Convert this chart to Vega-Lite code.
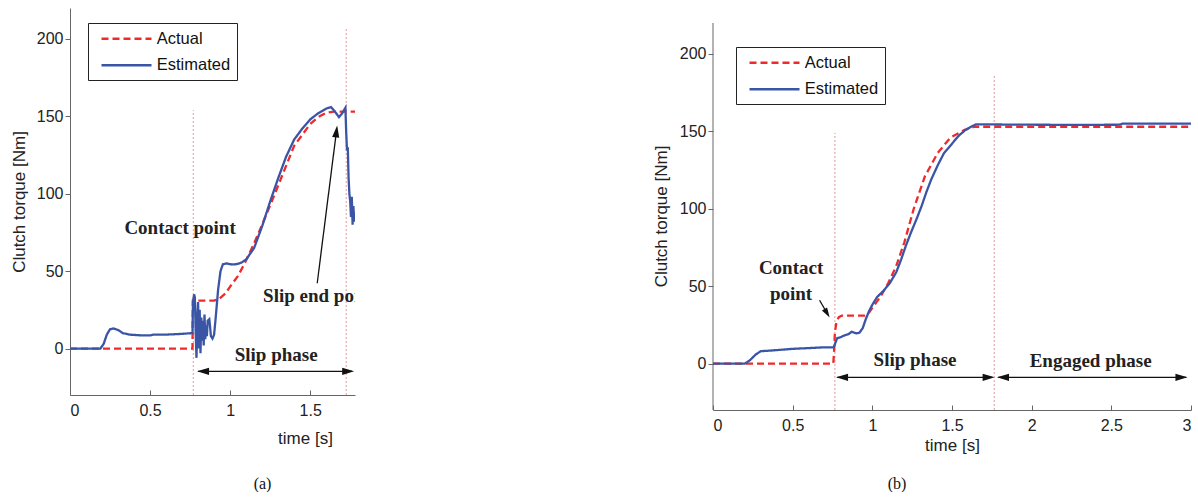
{
  "$schema": "https://vega.github.io/schema/vega-lite/v6.json",
  "background": "white",
  "padding": {"left": 10, "top": 8, "right": 0, "bottom": 0},
  "config": {
    "view": {"stroke": null},
    "font": "Liberation Sans",
    "axis": {
      "labelFont": "Liberation Sans", "labelFontSize": 16, "labelColor": "#222",
      "titleFont": "Liberation Sans", "titleFontSize": 17, "titleFontWeight": "normal", "titleColor": "#222",
      "domainColor": "#666", "tickColor": "#666", "grid": false
    },
    "legend": {
      "symbolType": "M-3.125,0H3.125", "symbolSize": 256, "symbolStrokeWidth": 2.5,
      "symbolOffset": 22.75, "labelOffset": 20.75, "labelFontSize": 16.5, "labelFont": "Liberation Sans",
      "labelColor": "#111", "padding": 6.25, "rowPadding": 8.5, "strokeColor": "#222", "fillColor": "white",
      "cornerRadius": 0
    },
    "text": {"lineBreak": "\n"}
  },
  "datasets": {
    "curvesA": [
      {"t": 0, "v": 0, "series": "Actual"}, {"t": 0.765, "v": 0, "series": "Actual"}, {"t": 0.767, "v": 31, "series": "Actual"},
      {"t": 0.9, "v": 31, "series": "Actual"}, {"t": 0.93, "v": 32, "series": "Actual"}, {"t": 0.97, "v": 35.5, "series": "Actual"},
      {"t": 1.0, "v": 40, "series": "Actual"}, {"t": 1.05, "v": 47, "series": "Actual"}, {"t": 1.1, "v": 57, "series": "Actual"},
      {"t": 1.15, "v": 68, "series": "Actual"}, {"t": 1.2, "v": 80, "series": "Actual"}, {"t": 1.26, "v": 95, "series": "Actual"},
      {"t": 1.33, "v": 113, "series": "Actual"}, {"t": 1.4, "v": 131, "series": "Actual"}, {"t": 1.45, "v": 138, "series": "Actual"},
      {"t": 1.5, "v": 145, "series": "Actual"}, {"t": 1.55, "v": 149.5, "series": "Actual"}, {"t": 1.6, "v": 152.3, "series": "Actual"},
      {"t": 1.65, "v": 153, "series": "Actual"}, {"t": 1.78, "v": 153, "series": "Actual"},
      {"t": 0, "v": 0, "series": "Estimated"}, {"t": 0.19, "v": 0, "series": "Estimated"}, {"t": 0.21, "v": 3, "series": "Estimated"},
      {"t": 0.23, "v": 9, "series": "Estimated"}, {"t": 0.25, "v": 12.5, "series": "Estimated"}, {"t": 0.27, "v": 13, "series": "Estimated"},
      {"t": 0.3, "v": 12, "series": "Estimated"}, {"t": 0.33, "v": 10, "series": "Estimated"}, {"t": 0.37, "v": 9, "series": "Estimated"},
      {"t": 0.45, "v": 8.5, "series": "Estimated"}, {"t": 0.5, "v": 8.5, "series": "Estimated"}, {"t": 0.52, "v": 9, "series": "Estimated"},
      {"t": 0.6, "v": 9, "series": "Estimated"}, {"t": 0.7, "v": 9.5, "series": "Estimated"}, {"t": 0.765, "v": 10, "series": "Estimated"},
      {"t": 0.768, "v": 30, "series": "Estimated"}, {"t": 0.775, "v": 35, "series": "Estimated"}, {"t": 0.78, "v": 33, "series": "Estimated"},
      {"t": 0.785, "v": 10, "series": "Estimated"}, {"t": 0.79, "v": -6, "series": "Estimated"}, {"t": 0.795, "v": 20, "series": "Estimated"},
      {"t": 0.8, "v": 30, "series": "Estimated"}, {"t": 0.805, "v": 0, "series": "Estimated"}, {"t": 0.81, "v": 25, "series": "Estimated"},
      {"t": 0.815, "v": -3, "series": "Estimated"}, {"t": 0.82, "v": 20, "series": "Estimated"}, {"t": 0.825, "v": 5, "series": "Estimated"},
      {"t": 0.83, "v": 18, "series": "Estimated"}, {"t": 0.835, "v": 2, "series": "Estimated"}, {"t": 0.84, "v": 22, "series": "Estimated"},
      {"t": 0.845, "v": 6, "series": "Estimated"}, {"t": 0.85, "v": 15, "series": "Estimated"}, {"t": 0.855, "v": 8, "series": "Estimated"},
      {"t": 0.86, "v": 18, "series": "Estimated"}, {"t": 0.87, "v": 19, "series": "Estimated"}, {"t": 0.875, "v": 14, "series": "Estimated"},
      {"t": 0.88, "v": 8, "series": "Estimated"}, {"t": 0.89, "v": 6.5, "series": "Estimated"}, {"t": 0.9, "v": 9, "series": "Estimated"},
      {"t": 0.91, "v": 20, "series": "Estimated"}, {"t": 0.925, "v": 38, "series": "Estimated"}, {"t": 0.94, "v": 50, "series": "Estimated"},
      {"t": 0.955, "v": 54.5, "series": "Estimated"}, {"t": 0.98, "v": 55, "series": "Estimated"}, {"t": 1.01, "v": 54.3, "series": "Estimated"},
      {"t": 1.04, "v": 54.5, "series": "Estimated"}, {"t": 1.07, "v": 55.5, "series": "Estimated"}, {"t": 1.1, "v": 57.5, "series": "Estimated"},
      {"t": 1.15, "v": 65, "series": "Estimated"}, {"t": 1.2, "v": 79, "series": "Estimated"}, {"t": 1.25, "v": 95, "series": "Estimated"},
      {"t": 1.3, "v": 110, "series": "Estimated"}, {"t": 1.35, "v": 124, "series": "Estimated"}, {"t": 1.4, "v": 135, "series": "Estimated"},
      {"t": 1.45, "v": 142, "series": "Estimated"}, {"t": 1.5, "v": 148, "series": "Estimated"}, {"t": 1.55, "v": 152, "series": "Estimated"},
      {"t": 1.6, "v": 155, "series": "Estimated"}, {"t": 1.63, "v": 156, "series": "Estimated"}, {"t": 1.655, "v": 153, "series": "Estimated"},
      {"t": 1.68, "v": 149.5, "series": "Estimated"}, {"t": 1.7, "v": 152, "series": "Estimated"}, {"t": 1.72, "v": 155.5, "series": "Estimated"},
      {"t": 1.725, "v": 140, "series": "Estimated"}, {"t": 1.73, "v": 128, "series": "Estimated"}, {"t": 1.735, "v": 130, "series": "Estimated"},
      {"t": 1.74, "v": 110, "series": "Estimated"}, {"t": 1.745, "v": 100, "series": "Estimated"}, {"t": 1.75, "v": 95, "series": "Estimated"},
      {"t": 1.755, "v": 85, "series": "Estimated"}, {"t": 1.76, "v": 98, "series": "Estimated"}, {"t": 1.765, "v": 80, "series": "Estimated"},
      {"t": 1.77, "v": 92, "series": "Estimated"}, {"t": 1.775, "v": 82, "series": "Estimated"}, {"t": 1.78, "v": 88, "series": "Estimated"}
    ],
    "curvesB": [
      {"t": 0, "v": 0, "series": "Actual"}, {"t": 0.755, "v": 0, "series": "Actual"}, {"t": 0.76, "v": 8, "series": "Actual"},
      {"t": 0.765, "v": 20, "series": "Actual"}, {"t": 0.775, "v": 27, "series": "Actual"}, {"t": 0.79, "v": 30, "series": "Actual"},
      {"t": 0.81, "v": 31, "series": "Actual"}, {"t": 0.95, "v": 31, "series": "Actual"}, {"t": 0.98, "v": 33, "series": "Actual"},
      {"t": 1.0, "v": 36, "series": "Actual"}, {"t": 1.05, "v": 43, "series": "Actual"}, {"t": 1.1, "v": 52, "series": "Actual"},
      {"t": 1.15, "v": 63, "series": "Actual"}, {"t": 1.2, "v": 78, "series": "Actual"}, {"t": 1.26, "v": 100, "series": "Actual"},
      {"t": 1.33, "v": 121, "series": "Actual"}, {"t": 1.41, "v": 136, "series": "Actual"}, {"t": 1.49, "v": 146, "series": "Actual"},
      {"t": 1.58, "v": 151, "series": "Actual"}, {"t": 1.64, "v": 153, "series": "Actual"}, {"t": 3.0, "v": 153, "series": "Actual"},
      {"t": 0, "v": 0, "series": "Estimated"}, {"t": 0.2, "v": 0, "series": "Estimated"}, {"t": 0.23, "v": 2, "series": "Estimated"},
      {"t": 0.27, "v": 6, "series": "Estimated"}, {"t": 0.3, "v": 8, "series": "Estimated"}, {"t": 0.35, "v": 8.3, "series": "Estimated"},
      {"t": 0.4, "v": 8.7, "series": "Estimated"}, {"t": 0.5, "v": 9.5, "series": "Estimated"}, {"t": 0.6, "v": 10, "series": "Estimated"},
      {"t": 0.7, "v": 10.5, "series": "Estimated"}, {"t": 0.755, "v": 10.5, "series": "Estimated"}, {"t": 0.76, "v": 11, "series": "Estimated"},
      {"t": 0.77, "v": 14, "series": "Estimated"}, {"t": 0.78, "v": 16.5, "series": "Estimated"}, {"t": 0.8, "v": 17, "series": "Estimated"},
      {"t": 0.82, "v": 18, "series": "Estimated"}, {"t": 0.85, "v": 19, "series": "Estimated"}, {"t": 0.87, "v": 20.5, "series": "Estimated"},
      {"t": 0.9, "v": 19.5, "series": "Estimated"}, {"t": 0.92, "v": 20, "series": "Estimated"}, {"t": 0.94, "v": 23, "series": "Estimated"},
      {"t": 0.96, "v": 29, "series": "Estimated"}, {"t": 0.98, "v": 34, "series": "Estimated"}, {"t": 1.0, "v": 38, "series": "Estimated"},
      {"t": 1.03, "v": 43, "series": "Estimated"}, {"t": 1.07, "v": 47, "series": "Estimated"}, {"t": 1.11, "v": 52, "series": "Estimated"},
      {"t": 1.15, "v": 59, "series": "Estimated"}, {"t": 1.18, "v": 67, "series": "Estimated"}, {"t": 1.21, "v": 76, "series": "Estimated"},
      {"t": 1.24, "v": 84, "series": "Estimated"}, {"t": 1.28, "v": 94, "series": "Estimated"}, {"t": 1.31, "v": 102, "series": "Estimated"},
      {"t": 1.34, "v": 111, "series": "Estimated"}, {"t": 1.37, "v": 119, "series": "Estimated"}, {"t": 1.41, "v": 128, "series": "Estimated"},
      {"t": 1.45, "v": 136, "series": "Estimated"}, {"t": 1.5, "v": 142, "series": "Estimated"}, {"t": 1.54, "v": 147, "series": "Estimated"},
      {"t": 1.58, "v": 150.5, "series": "Estimated"}, {"t": 1.62, "v": 153, "series": "Estimated"}, {"t": 1.65, "v": 154.5, "series": "Estimated"},
      {"t": 1.7, "v": 154.5, "series": "Estimated"}, {"t": 2.0, "v": 154.3, "series": "Estimated"}, {"t": 2.3, "v": 154.2, "series": "Estimated"},
      {"t": 2.55, "v": 154.3, "series": "Estimated"}, {"t": 2.57, "v": 155, "series": "Estimated"}, {"t": 3.0, "v": 155, "series": "Estimated"}
    ],
    "refA": [{"t": 0.77, "v": -30, "v2": 154}, {"t": 1.725, "v": -30, "v2": 207}],
    "refB": [{"t": 0.765, "v": -30, "v2": 149}, {"t": 1.765, "v": -30, "v2": 187}],
    "axisLineB": [{"t": 0, "v": -30, "v2": 220}],
    "labelsA": [{"t": 0.6875, "v": 78, "label": "Contact point"}, {"t": 1.2875, "v": -3.9, "label": "Slip phase"}],
    "slipEndA": [{"t": 1.206, "v": 33.8, "label": "Slip end point"}],
    "arrowsA": [{"t": 0.8, "v": -14.7, "t2": 1.76, "v2": -14.7}, {"t": 1.544, "v": 42.2, "t2": 1.664, "v2": 140.3}],
    "headLA": [{"t": 0.831, "v": -14.7}],
    "headRA": [{"t": 1.7375, "v": -14.7}],
    "headUA": [{"t": 1.664, "v": 140.3}],
    "labelsB": [{"t": 1.268, "v": 2, "label": "Slip phase"}, {"t": 2.37, "v": 1.5, "label": "Engaged phase"}, {"t": 0.49, "v": 61.7, "label": "Contact\npoint"}],
    "arrowsB": [{"t": 0.78, "v": -8.9, "t2": 1.75, "v2": -8.9}, {"t": 1.79, "v": -8.9, "t2": 2.97, "v2": -8.9}, {"t": 0.669, "v": 40.9, "t2": 0.716, "v2": 32.5}],
    "headLB": [{"t": 0.81, "v": -8.9}, {"t": 1.82, "v": -8.9}],
    "headRB": [{"t": 1.73, "v": -8.9}, {"t": 2.94, "v": -8.9}],
    "headDB": [{"t": 0.716, "v": 32.5}]
  },
  "resolve": {
    "scale": {"x": "independent", "y": "independent", "color": "independent", "strokeDash": "independent"},
    "legend": {"color": "independent", "strokeDash": "independent"},
    "axis": {"x": "independent", "y": "independent"}
  },
  "spacing": 297,
  "hconcat": [
    {
      "width": 285, "height": 387,
      "title": {"text": "(a)", "orient": "bottom", "anchor": "middle", "frame": "group", "dx": 50, "offset": 30,
                "font": "Liberation Serif", "fontSize": 16, "fontWeight": "normal", "color": "#111"},
      "encoding": {
        "x": {"field": "t", "type": "quantitative", "scale": {"domain": [0, 1.78], "nice": false, "zero": false},
              "axis": {"title": "time [s]", "values": [0, 0.5, 1, 1.5], "format": "~g", "tickSize": -5, "labelPadding": 12,
                       "titlePadding": 12, "titleX": 235}},
        "y": {"field": "v", "type": "quantitative", "scale": {"domain": [-30, 220], "nice": false, "zero": false},
              "axis": {"title": "Clutch torque [Nm]", "values": [0, 50, 100, 150, 200], "tickSize": 5, "labelPadding": 2, "titlePadding": 8}}
      },
      "layer": [
        {"data": {"name": "refA"}, "mark": {"type": "rule", "color": "#e49a9a", "strokeWidth": 1, "strokeDash": [2, 2]},
         "encoding": {"y2": {"field": "v2"}}},
        {"data": {"name": "curvesA"}, "mark": {"type": "line", "strokeWidth": 2.3, "clip": true},
         "encoding": {
           "color": {"field": "series", "type": "nominal", "scale": {"domain": ["Actual", "Estimated"], "range": ["#f02a2a", "#3b55a6"]},
                     "legend": {"title": null, "orient": "none", "legendX": 18, "legendY": 15}},
           "strokeDash": {"field": "series", "type": "nominal", "scale": {"domain": ["Actual", "Estimated"], "range": [[7, 4], [1, 0]]},
                          "legend": {"title": null, "orient": "none", "legendX": 18, "legendY": 15}}
         }},
        {"data": {"name": "labelsA"}, "mark": {"type": "text", "font": "Liberation Serif", "fontWeight": "bold", "fontSize": 19, "color": "#222", "align": "center", "baseline": "middle"},
         "encoding": {"text": {"field": "label"}}},
        {"data": {"name": "slipEndA"}, "mark": {"type": "text", "font": "Liberation Serif", "fontWeight": "bold", "fontSize": 19, "color": "#222", "align": "left", "baseline": "middle", "clip": true},
         "encoding": {"text": {"field": "label"}}},
        {"data": {"name": "arrowsA"}, "mark": {"type": "rule", "color": "#111", "strokeWidth": 1.3},
         "encoding": {"x2": {"field": "t2"}, "y2": {"field": "v2"}}},
        {"data": {"name": "headLA"}, "mark": {"type": "point", "shape": "M-1,0L1,-0.6L1,0.6Z", "size": 144, "filled": true, "color": "#111", "opacity": 1}},
        {"data": {"name": "headRA"}, "mark": {"type": "point", "shape": "M1,0L-1,-0.6L-1,0.6Z", "size": 144, "filled": true, "color": "#111", "opacity": 1}},
        {"data": {"name": "headUA"}, "mark": {"type": "point", "shape": "M0,-1L-0.6,1L0.6,1Z", "size": 144, "angle": 7.2, "filled": true, "color": "#111", "opacity": 1}}
      ]
    },
    {
      "width": 478, "height": 402,
      "title": {"text": "(b)", "orient": "bottom", "anchor": "middle", "frame": "group", "dx": -55, "offset": 23,
                "font": "Liberation Serif", "fontSize": 16, "fontWeight": "normal", "color": "#111"},
      "encoding": {
        "x": {"field": "t", "type": "quantitative", "scale": {"domain": [0, 3], "nice": false, "zero": false},
              "axis": {"title": "time [s]", "values": [0, 0.5, 1, 1.5, 2, 2.5, 3], "format": "~g", "tickSize": -5, "labelPadding": 12, "titlePadding": 4}},
        "y": {"field": "v", "type": "quantitative", "scale": {"domain": [-30, 229.7], "nice": false, "zero": false},
              "axis": {"title": "Clutch torque [Nm]", "values": [0, 50, 100, 150, 200], "tickSize": 5, "labelPadding": 2, "titlePadding": 9,
                       "domain": false, "titleY": 208}}
      },
      "layer": [
        {"data": {"name": "axisLineB"}, "mark": {"type": "rule", "color": "#666", "strokeWidth": 1},
         "encoding": {"y2": {"field": "v2"}}},
        {"data": {"name": "refB"}, "mark": {"type": "rule", "color": "#e49a9a", "strokeWidth": 1, "strokeDash": [2, 2]},
         "encoding": {"y2": {"field": "v2"}}},
        {"data": {"name": "curvesB"}, "mark": {"type": "line", "strokeWidth": 2.3, "clip": true},
         "encoding": {
           "color": {"field": "series", "type": "nominal", "scale": {"domain": ["Actual", "Estimated"], "range": ["#f02a2a", "#3b55a6"]},
                     "legend": {"title": null, "orient": "none", "legendX": 23, "legendY": 39}},
           "strokeDash": {"field": "series", "type": "nominal", "scale": {"domain": ["Actual", "Estimated"], "range": [[7, 4], [1, 0]]},
                          "legend": {"title": null, "orient": "none", "legendX": 23, "legendY": 39}}
         }},
        {"data": {"name": "labelsB"}, "mark": {"type": "text", "font": "Liberation Serif", "fontWeight": "bold", "fontSize": 19, "color": "#222", "align": "center", "baseline": "middle", "lineHeight": 26},
         "encoding": {"text": {"field": "label"}}},
        {"data": {"name": "arrowsB"}, "mark": {"type": "rule", "color": "#111", "strokeWidth": 1.3},
         "encoding": {"x2": {"field": "t2"}, "y2": {"field": "v2"}}},
        {"data": {"name": "headLB"}, "mark": {"type": "point", "shape": "M-1,0L1,-0.6L1,0.6Z", "size": 144, "filled": true, "color": "#111", "opacity": 1}},
        {"data": {"name": "headRB"}, "mark": {"type": "point", "shape": "M1,0L-1,-0.6L-1,0.6Z", "size": 144, "filled": true, "color": "#111", "opacity": 1}},
        {"data": {"name": "headDB"}, "mark": {"type": "point", "shape": "M0,-1L-0.6,1L0.6,1Z", "size": 100, "angle": 149, "filled": true, "color": "#111", "opacity": 1}}
      ]
    }
  ]
}
